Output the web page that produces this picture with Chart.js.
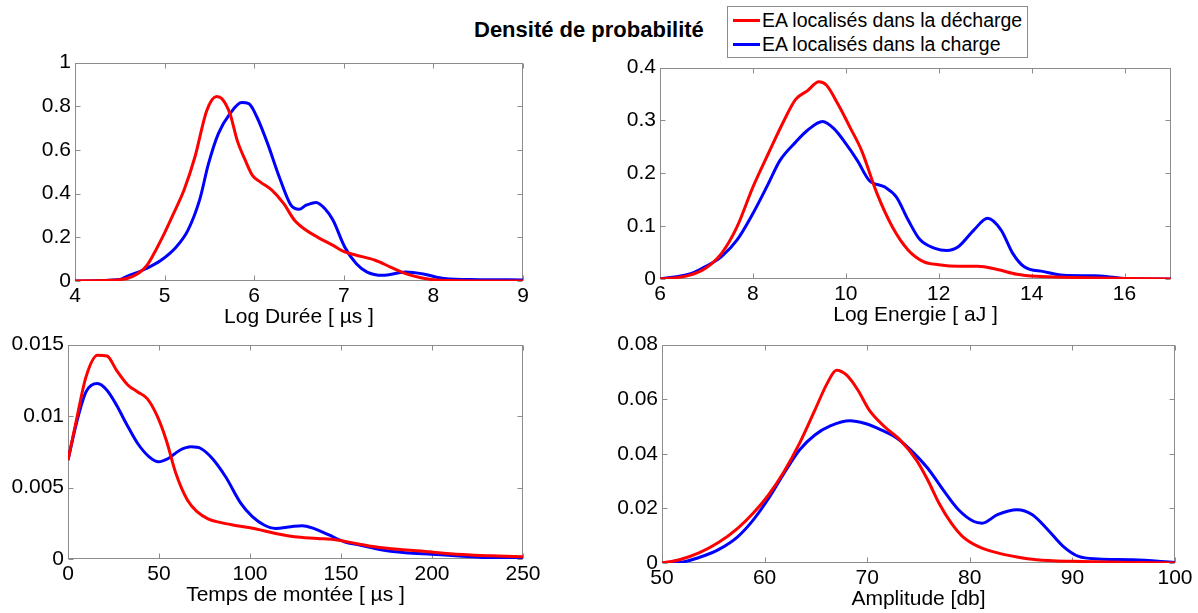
<!DOCTYPE html>
<html>
<head>
<meta charset="utf-8">
<script src="https://cdn.jsdelivr.net/npm/chart.js@4.4.1/dist/chart.umd.min.js"></script>
<style>
  html, body { margin: 0; padding: 0; background: #fff; overflow: hidden; }
  body { width: 1198px; height: 613px; position: relative; font-family: "Liberation Sans", Arial, sans-serif; }
  canvas { position: absolute; }
  #title { position: absolute; left: 474px; top: 18px; font-size: 22px; line-height: 24px; font-weight: bold; color: #000; white-space: nowrap; }
  #legend { position: absolute; left: 727px; top: 6px; width: 299px; height: 49px; border: 1px solid #8c8c8c; background: #fff; padding-top: 1px; box-sizing: content-box; }
  #legend .row { height: 24px; line-height: 24px; font-size: 19.5px; color: #000; white-space: nowrap; display: flex; align-items: center; }
  #legend .swatch { display: inline-block; width: 27px; height: 3px; margin-left: 5px; margin-right: 2px; }
</style>
</head>
<body>
<div id="title">Densité de probabilité</div>
<div id="legend"></div>
<canvas id="duree"></canvas>
<canvas id="energie"></canvas>
<canvas id="montee"></canvas>
<canvas id="amplitude"></canvas>
<script>
// series labels / colours
const seriesLabels = ['EA localisés dans la décharge', 'EA localisés dans la charge'];
const seriesColors = ['#ff0000', '#0000ff'];

// Log Durée
const dureeDechargeX = [4, 4.5, 4.65, 4.8, 4.9, 5.0, 5.09, 5.22, 5.34, 5.47, 5.58, 5.64, 5.73, 5.81, 5.9, 5.98, 6.07, 6.2, 6.33, 6.45, 6.58, 6.71, 6.88, 7.01, 7.14, 7.35, 7.52, 7.69, 7.86, 8.07, 8.5, 9];
const dureeDechargeY = [0, 0.006, 0.022, 0.07, 0.14, 0.22, 0.3, 0.42, 0.57, 0.78, 0.845, 0.835, 0.766, 0.644, 0.553, 0.484, 0.453, 0.415, 0.354, 0.278, 0.232, 0.2, 0.163, 0.133, 0.118, 0.095, 0.064, 0.034, 0.015, 0.003, 0, 0];
const dureeChargeX = [4, 4.5, 4.58, 4.79, 4.96, 5.13, 5.26, 5.39, 5.49, 5.6, 5.73, 5.86, 5.94, 6.03, 6.15, 6.28, 6.41, 6.5, 6.58, 6.69, 6.79, 6.88, 7.01, 7.14, 7.26, 7.43, 7.69, 7.9, 8.12, 8.5, 9];
const dureeChargeY = [0, 0.007, 0.021, 0.056, 0.095, 0.156, 0.232, 0.37, 0.537, 0.675, 0.766, 0.817, 0.812, 0.751, 0.629, 0.476, 0.347, 0.328, 0.347, 0.36, 0.331, 0.278, 0.156, 0.079, 0.041, 0.026, 0.041, 0.031, 0.011, 0.006, 0.005];
const dureeXTicks = [4, 5, 6, 7, 8, 9];
const dureeYTicks = [0, 0.2, 0.4, 0.6, 0.8, 1];

// Log Energie
const energieDechargeX = [6, 6.58, 6.99, 7.33, 7.66, 8, 8.33, 8.67, 8.92, 9.17, 9.42, 9.58, 9.83, 10.09, 10.34, 10.67, 11, 11.34, 11.67, 12, 12.42, 12.84, 13.26, 13.68, 14.1, 14.93, 16, 17];
const energieDechargeY = [0, 0.006, 0.021, 0.049, 0.099, 0.174, 0.237, 0.3, 0.34, 0.356, 0.373, 0.367, 0.331, 0.287, 0.243, 0.162, 0.099, 0.055, 0.033, 0.027, 0.024, 0.024, 0.018, 0.009, 0.005, 0.003, 0.001, 0];
const energieChargeX = [6, 6.66, 6.99, 7.33, 7.66, 8, 8.33, 8.58, 8.92, 9.17, 9.5, 9.75, 10, 10.25, 10.5, 10.84, 11.09, 11.34, 11.59, 11.92, 12.17, 12.42, 12.76, 13.05, 13.34, 13.59, 13.84, 14.26, 14.68, 15.35, 15.68, 16.1, 17];
const energieChargeY = [0, 0.01, 0.024, 0.043, 0.074, 0.124, 0.18, 0.224, 0.259, 0.281, 0.298, 0.284, 0.256, 0.224, 0.187, 0.174, 0.155, 0.112, 0.075, 0.058, 0.054, 0.061, 0.093, 0.115, 0.093, 0.049, 0.023, 0.014, 0.007, 0.006, 0.004, 0, 0];
const energieXTicks = [6, 8, 10, 12, 14, 16];
const energieYTicks = [0, 0.1, 0.2, 0.3, 0.4];

// Temps de montée
const monteeDechargeX = [0, 4.6, 9.9, 16.2, 21.4, 26.7, 33, 38.3, 43.5, 48.8, 54, 59.3, 65.6, 70.9, 77.2, 83.5, 92.9, 103.4, 114, 124.5, 137.1, 147.6, 158.1, 168.6, 181.2, 193.9, 206.5, 221.2, 235.9, 250];
const monteeDechargeY = [0.00692, 0.0097, 0.01274, 0.01425, 0.0142, 0.0132, 0.01216, 0.01169, 0.01122, 0.01006, 0.00831, 0.00598, 0.00412, 0.00331, 0.00279, 0.00256, 0.00233, 0.0021, 0.00179, 0.00156, 0.00144, 0.00133, 0.00109, 0.00086, 0.00068, 0.00056, 0.0004, 0.00028, 0.00021, 0.00016];
const monteeChargeX = [0, 4.6, 9.9, 16.2, 21.4, 26.7, 32, 38.3, 44.6, 49.8, 55.1, 61.4, 67.7, 73, 79.3, 86.6, 95, 101.3, 107.7, 114, 122.4, 128.7, 134.9, 143.4, 151.8, 160.2, 172.8, 185.4, 200.2, 214.9, 231.7, 250];
const monteeChargeY = [0.00692, 0.00948, 0.01169, 0.01227, 0.01181, 0.01076, 0.00948, 0.00808, 0.00715, 0.0068, 0.00703, 0.00761, 0.00785, 0.00773, 0.00703, 0.00575, 0.00389, 0.00296, 0.00238, 0.00214, 0.00226, 0.00233, 0.00214, 0.00168, 0.00121, 0.00098, 0.00063, 0.00044, 0.00033, 0.00021, 0.00009, 0.00007];
const monteeXTicks = [0, 50, 100, 150, 200, 250];
const monteeYTicks = [0, 0.005, 0.01, 0.015];

// Amplitude
const amplitudeDechargeX = [50, 51.7, 53.6, 55.5, 57.4, 58.9, 60.4, 61.9, 63.4, 64.9, 66.1, 67, 68, 69.1, 70.2, 71.7, 73.2, 74.8, 75.9, 77, 78.2, 79.3, 80.8, 82.7, 84.6, 86.5, 90.2, 95.9, 100];
const amplitudeDechargeY = [0, 0.0012, 0.0037, 0.0075, 0.0128, 0.0183, 0.025, 0.0335, 0.0438, 0.056, 0.0658, 0.0706, 0.0688, 0.0633, 0.056, 0.0499, 0.0451, 0.0377, 0.0304, 0.0219, 0.0146, 0.0097, 0.0061, 0.0037, 0.0022, 0.0012, 0.0006, 0.0002, 0];
const amplitudeChargeX = [50, 51.7, 53.6, 55.5, 57.4, 58.9, 60.4, 61.9, 63.4, 64.9, 66.4, 68.3, 69.8, 71.4, 72.9, 74.4, 75.9, 77.4, 78.9, 80.4, 81.2, 82.7, 84.6, 86.1, 87.6, 89.1, 90.6, 92.5, 95.9, 100];
const amplitudeChargeY = [0, 0.0002, 0.002, 0.0049, 0.0097, 0.0158, 0.0237, 0.0329, 0.0414, 0.0469, 0.0502, 0.0521, 0.0511, 0.0487, 0.0457, 0.0408, 0.0347, 0.0268, 0.0195, 0.0152, 0.0146, 0.0177, 0.0195, 0.0177, 0.0122, 0.0061, 0.0024, 0.0015, 0.0012, 0.0002];
const amplitudeXTicks = [50, 60, 70, 80, 90, 100];
const amplitudeYTicks = [0, 0.02, 0.04, 0.06, 0.08];

const FONT = '"Liberation Sans", Arial, sans-serif';
const PAD_L = 72, PAD_T = 16, PAD_R = 24, AXIS_H = 49;

// legend
const legend = document.getElementById('legend');
seriesLabels.forEach((label, i) => {
  const row = document.createElement('div');
  row.className = 'row';
  row.innerHTML = `<span class="swatch" style="background:${seriesColors[i]}"></span>${label}`;
  legend.appendChild(row);
});

function fmt(v) {
  return String(parseFloat(Number(v).toFixed(6)));
}

// MATLAB-like box with inward ticks on all sides
const boxPlugin = {
  id: 'box',
  beforeDatasetsDraw(chart, args, opts) {
    const { ctx, chartArea: a, scales: { x, y } } = chart;
    const L = Math.round(a.left) + 0.5, R = Math.round(a.right) - 0.5;
    const T = Math.round(a.top) + 0.5, B = Math.round(a.bottom) - 0.5;
    ctx.save();
    ctx.strokeStyle = '#8c8c8c';
    ctx.lineWidth = 1;
    ctx.strokeRect(L, T, R - L, B - T);
    ctx.beginPath();
    opts.xTicks.forEach(v => {
      const px = Math.round(x.getPixelForValue(v)) + 0.5;
      ctx.moveTo(px, B); ctx.lineTo(px, B - 5);
      ctx.moveTo(px, T); ctx.lineTo(px, T + 5);
    });
    opts.yTicks.forEach(v => {
      const py = Math.round(y.getPixelForValue(v)) + 0.5;
      ctx.moveTo(L, py); ctx.lineTo(L + 5, py);
      ctx.moveTo(R, py); ctx.lineTo(R - 5, py);
    });
    ctx.stroke();
    ctx.restore();
  }
};

function makePanel(id, rect, xTicks, yTicks, xTitle, xs, ys) {
  const canvas = document.getElementById(id);
  const w = rect.right - rect.left + PAD_L + PAD_R;
  const h = rect.bottom - rect.top + PAD_T + AXIS_H;
  canvas.width = w;
  canvas.height = h;
  canvas.style.left = (rect.left - PAD_L) + 'px';
  canvas.style.top = (rect.top - PAD_T) + 'px';

  const axisBase = {
    type: 'linear',
    grid: { display: false, drawTicks: false },
    border: { display: false },
  };

  new Chart(canvas, {
    type: 'line',
    data: {
      datasets: xs.map((arr, i) => ({
        label: seriesLabels[i],
        data: arr.map((v, j) => ({ x: v, y: ys[i][j] })),
        borderColor: seriesColors[i],
        borderWidth: 3,
        pointRadius: 0,
        fill: false,
        cubicInterpolationMode: 'monotone'
      }))
    },
    options: {
      responsive: false,
      animation: false,
      layout: { padding: { top: PAD_T, right: PAD_R, left: 0, bottom: 0 } },
      plugins: {
        legend: { display: false },
        tooltip: { enabled: false },
        box: { xTicks, yTicks }
      },
      scales: {
        x: {
          ...axisBase,
          position: 'bottom',
          min: xTicks[0],
          max: rect.xMax,
          afterBuildTicks: s => { s.ticks = xTicks.map(v => ({ value: v })); },
          afterFit: s => { s.height = AXIS_H; },
          ticks: { padding: 3, color: '#000', font: { family: FONT, size: 21 }, maxRotation: 0, autoSkip: false, callback: fmt },
          title: { display: true, text: xTitle, color: '#000', font: { family: FONT, size: 21 }, padding: 0 }
        },
        y: {
          ...axisBase,
          position: 'left',
          min: yTicks[0],
          max: yTicks[yTicks.length - 1],
          afterBuildTicks: s => { s.ticks = yTicks.map(v => ({ value: v })); },
          afterFit: s => { s.width = PAD_L; },
          ticks: { padding: 4, color: '#000', font: { family: FONT, size: 21 }, autoSkip: false, callback: fmt }
        }
      }
    },
    plugins: [boxPlugin]
  });
}

makePanel('duree', { left: 75, top: 62, right: 523, bottom: 281, xMax: 9 },
  dureeXTicks, dureeYTicks, 'Log Durée [ µs ]',
  [dureeDechargeX, dureeChargeX], [dureeDechargeY, dureeChargeY]);

makePanel('energie', { left: 660, top: 67, right: 1171, bottom: 279, xMax: 17 },
  energieXTicks, energieYTicks, 'Log Energie [ aJ ]',
  [energieDechargeX, energieChargeX], [energieDechargeY, energieChargeY]);

makePanel('montee', { left: 68, top: 344, right: 523, bottom: 559, xMax: 250 },
  monteeXTicks, monteeYTicks, 'Temps de montée [ µs ]',
  [monteeDechargeX, monteeChargeX], [monteeDechargeY, monteeChargeY]);

makePanel('amplitude', { left: 662, top: 344, right: 1175, bottom: 563, xMax: 100 },
  amplitudeXTicks, amplitudeYTicks, 'Amplitude [db]',
  [amplitudeDechargeX, amplitudeChargeX], [amplitudeDechargeY, amplitudeChargeY]);
</script>
</body>
</html>
